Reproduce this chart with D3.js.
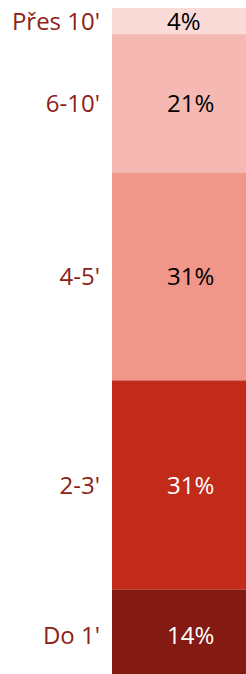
<!DOCTYPE html>
<html lang="cs">
    <head>
        <meta charset="utf-8">
        <script type="text/javascript" src="https://cdn.jsdelivr.net/npm/d3@7"></script>
        <style type="text/css">
            body { margin: 0; background: #ffffff; }
            text { font-family: "Open Sans", "Noto Sans", sans-serif; font-size: 24px; }
            .cat { fill: #8c2217; }
        </style>
    </head>
    <body>
        <script type="text/javascript">
            // categories from top to bottom
            var categories = ["Přes 10'", "6-10'", "4-5'", "2-3'", "Do 1'"];
            var shares = [3.9, 20.6, 31.0, 31.2, 13.6];
            var valueLabels = ["4%", "21%", "31%", "31%", "14%"];
            var colors = ["#fadbd8", "#f5b8b2", "#f1978a", "#c22a1a", "#841b12"];
            var textColors = ["#000000", "#000000", "#000000", "#ffffff", "#ffffff"];

            var w = 246, h = 674;

            var svg = d3.select("body")
                .append("svg")
                .attr("width", w)
                .attr("height", h);

            // cumulative start of each segment, counted from the top
            var starts = [];
            var acc = 0;
            for (i = 0; i < shares.length; i++) {
                starts.push(acc);
                acc += shares[i];
            }

            var yScale = d3.scaleLinear()
                .domain([0, acc])
                .range([8, 8 + acc * 6.71]);

            var xScale = d3.scaleBand()
                .domain(["all"])
                .range([112, 270]);

            svg.selectAll("rect")
                .data(shares)
                .enter()
                .append("rect")
                .attr("x", xScale("all"))
                .attr("width", xScale.bandwidth())
                .attr("y", function(d, i) { return yScale(starts[i]); })
                .attr("height", function(d, i) { return yScale(starts[i] + d) - yScale(starts[i]); })
                .attr("fill", function(d, i) { return colors[i]; });

            // value labels inside segments
            svg.selectAll(".val")
                .data(shares)
                .enter()
                .append("text")
                .attr("class", "val")
                .attr("x", xScale("all") + 55)
                .attr("y", function(d, i) { return yScale(starts[i] + d / 2); })
                .attr("dy", "0.36em")
                .attr("fill", function(d, i) { return textColors[i]; })
                .text(function(d, i) { return valueLabels[i]; });

            // category labels on the left
            svg.selectAll(".cat")
                .data(categories)
                .enter()
                .append("text")
                .attr("class", "cat")
                .attr("x", 100)
                .attr("y", function(d, i) { return yScale(starts[i] + shares[i] / 2); })
                .attr("dy", "0.36em")
                .attr("text-anchor", "end")
                .text(function(d) { return d; });
        </script>
    </body>
</html>
